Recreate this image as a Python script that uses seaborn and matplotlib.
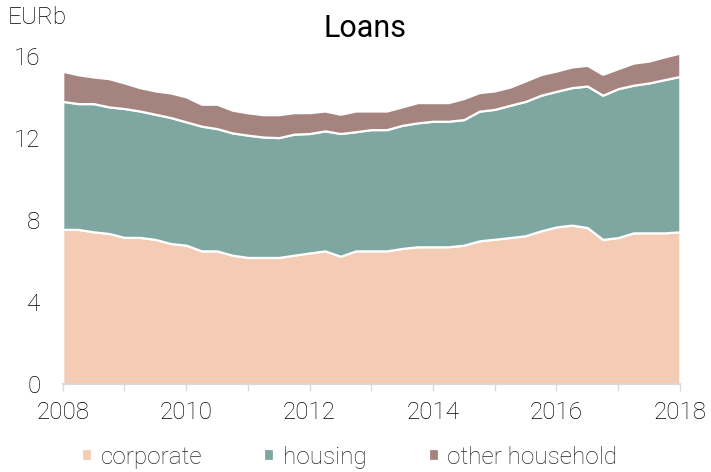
import numpy as np
import pandas as pd
import matplotlib
matplotlib.use('Agg')
import matplotlib.pyplot as plt
import seaborn as sns

# квартальные данные 2008Q1 - 2018Q1, млрд евро
quarters = pd.period_range('2008Q1', '2018Q1', freq='Q')
corporate = [7.55, 7.55, 7.43, 7.35, 7.16, 7.16, 7.06, 6.86, 6.78, 6.50,
             6.50, 6.29, 6.18, 6.18, 6.18, 6.29, 6.40, 6.50, 6.24, 6.50,
             6.50, 6.50, 6.62, 6.70, 6.70, 6.70, 6.78, 6.99, 7.07, 7.15,
             7.24, 7.48, 7.67, 7.76, 7.64, 7.06, 7.15, 7.38, 7.38, 7.38,
             7.43]
housing = [6.25, 6.14, 6.26, 6.18, 6.29, 6.17, 6.11, 6.15, 6.02, 6.09,
           5.97, 5.97, 5.97, 5.88, 5.85, 5.91, 5.83, 5.86, 5.99, 5.82,
           5.92, 5.92, 6.01, 6.05, 6.13, 6.13, 6.13, 6.33, 6.34, 6.46,
           6.56, 6.62, 6.62, 6.71, 6.91, 7.04, 7.27, 7.21, 7.32, 7.48,
           7.59]
other_household = [1.47, 1.41, 1.30, 1.38, 1.25, 1.14, 1.14, 1.20, 1.22, 1.07,
                   1.19, 1.11, 1.09, 1.09, 1.12, 1.05, 1.02, 0.97, 0.94, 1.01,
                   0.91, 0.91, 0.90, 0.99, 0.91, 0.91, 1.03, 0.91, 0.90, 0.89,
                   1.00, 1.01, 0.99, 1.01, 1.01, 1.02, 0.98, 1.08, 1.07, 1.11,
                   1.14]
series_names = ['corporate', 'housing', 'other household']
colors = ['#f4cbb4', '#7ea7a1', '#a58480']

x_major = [2008, 2010, 2012, 2014, 2016, 2018]
y_ticks = [0, 4, 8, 12, 16]

df = pd.DataFrame({'corporate': corporate, 'housing': housing,
                   'other household': other_household})
df['year'] = quarters.year + (quarters.quarter - 1) / 4

sns.set_theme(style='white')
plt.rcParams['font.family'] = ['Roboto', 'DejaVu Sans']
plt.rcParams['font.weight'] = 'light'

fig = plt.figure(figsize=(7.11, 4.72), dpi=100)
ax = fig.add_axes([0.0882, 0.1864, 0.868, 0.716])

ax.stackplot(df['year'], [df[c] for c in series_names], colors=colors,
             labels=series_names, edgecolor='white', linewidth=1.6)

ax.set_xlim(2008, 2018)
ax.set_ylim(0, 16.5)
ax.set_yticks(y_ticks)
ax.set_xticks(x_major)
ax.set_xticks(range(2008, 2019), minor=True)
ax.tick_params(axis='y', length=0, labelsize=17.5, pad=16, colors='black')
ax.tick_params(axis='x', which='both', direction='out', length=5, width=1,
               color='#d9d9d9', bottom=True)
ax.tick_params(axis='x', labelsize=17.5, pad=7, labelcolor='black')
for side in ['top', 'right', 'left']:
    ax.spines[side].set_visible(False)
ax.spines['bottom'].set_color('#d9d9d9')
ax.spines['bottom'].set_linewidth(1.5)
ax.set_xlabel('')
ax.set_ylabel('')

fig.text(0.011, 0.963, 'EURb', fontsize=17.5, va='center', ha='left', color='black')
fig.text(0.513, 0.94, 'Loans', fontsize=22, va='center', ha='center',
         fontweight='normal', color='black')

handles, labels = ax.get_legend_handles_labels()
fig.legend(handles, labels, loc='center left', bbox_to_anchor=(0.098, 0.031),
           ncol=3, frameon=False, fontsize=17.5, borderpad=0,
           handlelength=0.42, handleheight=0.42, handletextpad=0.35,
           columnspacing=2.55)

fig.savefig('out.png', dpi=100)
